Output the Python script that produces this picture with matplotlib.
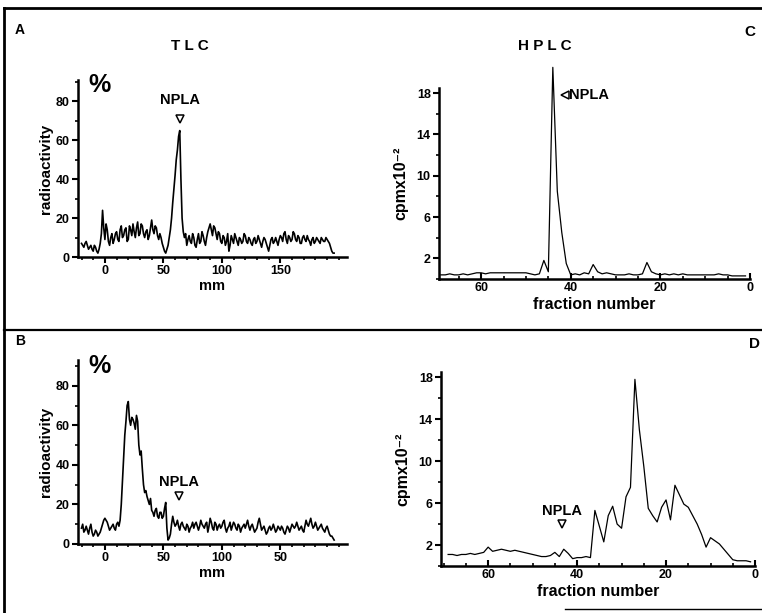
#!/usr/bin/env python3
"""TLC / HPLC radioactivity scans (panels A-D)."""

import matplotlib

matplotlib.use("Agg")
import matplotlib.pyplot as plt
import numpy as np
from matplotlib.lines import Line2D
from matplotlib.ticker import MultipleLocator

plt.rcParams["font.family"] = ["Liberation Sans", "DejaVu Sans"]
plt.rcParams["font.weight"] = "bold"

# TLC scans, positions in mm (1 mm steps from -20 to 196)
TLC_MM = np.arange(-20, 197)
TLC_A = [
    7, 6, 5, 7, 8, 6, 4, 5, 6, 4, 3, 6, 5, 3, 2, 4, 7, 12, 24, 15,
    9, 17, 14, 8, 6, 10, 12, 7, 9, 12, 13, 9, 8, 14, 16, 10, 11, 14, 15, 8,
    9, 16, 14, 11, 17, 13, 10, 15, 18, 11, 12, 17, 16, 12, 10, 13, 14, 9, 11, 15,
    19, 14, 12, 16, 15, 11, 9, 12, 10, 7, 5, 3, 2, 4, 6, 10, 14, 20, 28, 35,
    42, 50, 55, 62, 65, 40, 20, 13, 10, 12, 6, 9, 11, 8, 7, 12, 10, 6, 5, 9,
    12, 7, 8, 13, 11, 8, 6, 10, 13, 15, 17, 14, 11, 16, 15, 12, 9, 13, 12, 8,
    7, 11, 10, 6, 8, 12, 3, 6, 11, 9, 7, 12, 10, 8, 6, 10, 9, 7, 8, 12,
    11, 8, 7, 10, 9, 7, 6, 9, 10, 7, 8, 11, 9, 7, 5, 8, 10, 9, 7, 5,
    3, 6, 9, 10, 7, 8, 10, 8, 6, 9, 11, 10, 8, 12, 13, 9, 7, 11, 10, 8,
    9, 13, 12, 9, 8, 11, 10, 7, 7, 10, 11, 9, 8, 11, 9, 8, 6, 9, 10, 7,
    8, 10, 9, 8, 7, 10, 9, 8, 8, 10, 9, 8, 7, 5, 3, 2, 2,
]
TLC_B = [
    8, 10, 6, 7, 9, 7, 5, 8, 10, 6, 4, 5, 7, 6, 4, 5, 6, 8, 10, 12,
    13, 12, 11, 9, 7, 8, 9, 10, 8, 7, 10, 11, 9, 12, 20, 32, 45, 55, 62, 70,
    72, 63, 60, 64, 63, 61, 58, 65, 62, 50, 45, 47, 38, 30, 26, 27, 24, 22, 20, 23,
    17, 16, 14, 17, 18, 14, 13, 16, 16, 13, 14, 18, 21, 8, 2, 3, 5, 10, 14, 11,
    9, 10, 12, 9, 7, 10, 11, 9, 8, 7, 10, 9, 6, 8, 9, 11, 8, 10, 11, 9,
    7, 9, 12, 10, 9, 8, 10, 11, 6, 9, 13, 11, 8, 7, 11, 10, 7, 9, 10, 8,
    9, 11, 12, 8, 6, 8, 9, 11, 7, 9, 11, 10, 8, 7, 10, 9, 6, 8, 9, 10,
    8, 10, 12, 9, 7, 9, 10, 8, 6, 7, 8, 11, 13, 10, 7, 8, 9, 7, 5, 6,
    8, 9, 7, 8, 10, 8, 6, 7, 9, 8, 7, 9, 8, 6, 5, 7, 9, 8, 6, 8,
    10, 9, 8, 9, 11, 9, 7, 8, 9, 7, 6, 9, 12, 10, 9, 11, 13, 10, 8, 9,
    11, 9, 7, 8, 9, 10, 8, 7, 6, 8, 9, 7, 5, 4, 4, 3, 2,
]
TLC_XTICKS = [0, 50, 100, 150]
TLC_XLABELS_A = ["0", "50", "100", "150"]
TLC_XLABELS_B = ["0", "50", "100", "50"]
TLC_YTICKS = [0, 20, 40, 60, 80]

# HPLC profiles, fraction numbers 69 -> 1
HPLC_FRAC = np.arange(69, 0, -1)
HPLC_C = [
    0.4, 0.4, 0.5, 0.4, 0.4, 0.5, 0.4, 0.5, 0.6, 0.6,
    0.5, 0.6, 0.6, 0.6, 0.6, 0.6, 0.6, 0.6, 0.6, 0.6,
    0.5, 0.4, 0.5, 1.8, 0.7, 20.5, 8.5, 4.5, 1.5, 0.4,
    0.5, 0.4, 0.6, 0.5, 1.4, 0.7, 0.5, 0.6, 0.5, 0.4,
    0.4, 0.4, 0.5, 0.4, 0.4, 0.5, 1.6, 0.7, 0.5, 0.4,
    0.5, 0.4, 0.5, 0.4, 0.5, 0.4, 0.4, 0.4, 0.4, 0.4,
    0.4, 0.4, 0.5, 0.4, 0.4, 0.3, 0.3, 0.3, 0.3,
]
HPLC_D = [
    1.1, 1.1, 1.0, 1.1, 1.1, 1.2, 1.1, 1.2, 1.3, 1.8,
    1.4, 1.5, 1.6, 1.5, 1.4, 1.5, 1.4, 1.3, 1.2, 1.1,
    1.0, 0.9, 0.9, 1.0, 1.3, 0.9, 1.6, 1.2, 0.7, 0.8,
    0.8, 0.9, 0.8, 5.3, 3.8, 2.3, 4.8, 5.7, 4.0, 3.6,
    6.6, 7.5, 17.8, 13.0, 9.5, 5.5, 4.8, 4.2, 5.6, 6.3,
    4.4, 7.7, 6.8, 5.9, 5.6, 4.8, 4.0, 3.0, 1.8, 2.7,
    2.4, 2.1, 1.6, 1.1, 0.6, 0.5, 0.5, 0.5, 0.4,
]
HPLC_XTICKS = [60, 40, 20, 0]
HPLC_YTICKS = [2, 6, 10, 14, 18]

W, H = 762, 613


def px_axes(fig, left, top, right, bottom):
    return fig.add_axes([left / W, 1 - bottom / H, (right - left) / W, (bottom - top) / H])


def style(ax, lw=1.8):
    for s in ("top", "right"):
        ax.spines[s].set_visible(False)
    for s in ("left", "bottom"):
        ax.spines[s].set_linewidth(lw)
    ax.tick_params(width=1.5, length=4, labelsize=9, pad=2)
    ax.tick_params(which="minor", width=1.2, length=2.5)
    for lab in ax.get_xticklabels() + ax.get_yticklabels():
        lab.set_fontweight("bold")


def tlc_panel(ax, y, xlabels, ylim):
    ax.plot(TLC_MM, y, color="black", lw=1.2)
    ax.set_xlim(-23, 207)
    ax.set_ylim(0, ylim)
    ax.set_xticks(TLC_XTICKS)
    ax.set_xticklabels(xlabels)
    ax.set_yticks(TLC_YTICKS)
    ax.yaxis.set_minor_locator(MultipleLocator(10))
    ax.xaxis.set_minor_locator(MultipleLocator(10))
    ax.set_xlabel("mm", fontsize=10.5, fontweight="bold", labelpad=1)
    ax.set_ylabel("radioactivity", fontsize=11, fontweight="bold", labelpad=2)
    ax.text(0.04, 0.97, "%", transform=ax.transAxes, fontsize=18,
            fontweight="bold", va="center", ha="left")
    style(ax)


def hplc_panel(ax, y, xmax):
    ax.plot(HPLC_FRAC, y, color="black", lw=0.9, clip_on=False)
    ax.set_xlim(xmax, 0)
    ax.set_ylim(0, 18.5)
    ax.set_xticks(HPLC_XTICKS)
    ax.set_yticks(HPLC_YTICKS)
    ax.yaxis.set_minor_locator(MultipleLocator(2))
    ax.xaxis.set_minor_locator(MultipleLocator(5))
    ax.tick_params(axis="x", which="both", direction="in")
    ax.set_xlabel("fraction number", fontsize=11.5, fontweight="bold", labelpad=2)
    ax.set_ylabel("cpmx10⁻²", fontsize=11.5, fontweight="bold", labelpad=6)
    style(ax)


fig = plt.figure(figsize=(W / 100, H / 100), dpi=100)

ax_a = px_axes(fig, 78, 80, 347, 257)
tlc_panel(ax_a, TLC_A, TLC_XLABELS_A, 91)
ax_a.plot([64], [71], marker="v", ms=6, mfc="white", mec="black", mew=1.1)
ax_a.text(64, 77, "NPLA", ha="center", va="bottom", fontsize=10.5, fontweight="bold")

ax_b = px_axes(fig, 78, 360, 347, 544)
tlc_panel(ax_b, TLC_B, TLC_XLABELS_B, 93)
ax_b.plot([63], [24.5], marker="v", ms=6, mfc="white", mec="black", mew=1.1)
ax_b.text(63, 28, "NPLA", ha="center", va="bottom", fontsize=10.5, fontweight="bold")

ax_c = px_axes(fig, 439, 88, 750, 279)
hplc_panel(ax_c, HPLC_C, 69.4)
ax_c.plot([41.2], [17.8], marker="<", ms=5.5, mfc="white", mec="black", mew=1.1)
ax_c.text(40.4, 17.8, "NPLA", ha="left", va="center", fontsize=10.5, fontweight="bold")

ax_d = px_axes(fig, 441, 372, 755, 566)
hplc_panel(ax_d, HPLC_D, 70.6)
ax_d.plot([43.4], [4.0], marker="v", ms=6, mfc="white", mec="black", mew=1.1)
ax_d.text(43.4, 4.6, "NPLA", ha="center", va="bottom", fontsize=10.5, fontweight="bold")

# panel letters and headings
fig.text(15 / W, 1 - 30 / H, "A", fontsize=10, fontweight="bold", va="center")
fig.text(15 / W, 1 - 341 / H, "B", fontsize=10, fontweight="bold", va="center")
fig.text(750 / W, 1 - 32 / H, "C", fontsize=11, fontweight="bold", va="center", ha="center")
fig.text(754 / W, 1 - 344 / H, "D", fontsize=11, fontweight="bold", va="center", ha="center")
fig.text(190 / W, 1 - 46 / H, "T L C", fontsize=11, fontweight="bold", va="center", ha="center")
fig.text(545 / W, 1 - 46 / H, "H P L C", fontsize=11, fontweight="bold", va="center", ha="center")

# scanned frame lines
for xs, ys, lw in [
    ([4, 762], [8, 8], 2.0),
    ([4, 4], [8, 613], 2.0),
    ([4, 762], [330, 330], 1.6),
    ([565, 762], [609, 609], 1.0),
]:
    fig.add_artist(Line2D([x / W for x in xs], [1 - y / H for y in ys],
                          color="black", lw=lw))

fig.savefig("out.png", dpi=100)
